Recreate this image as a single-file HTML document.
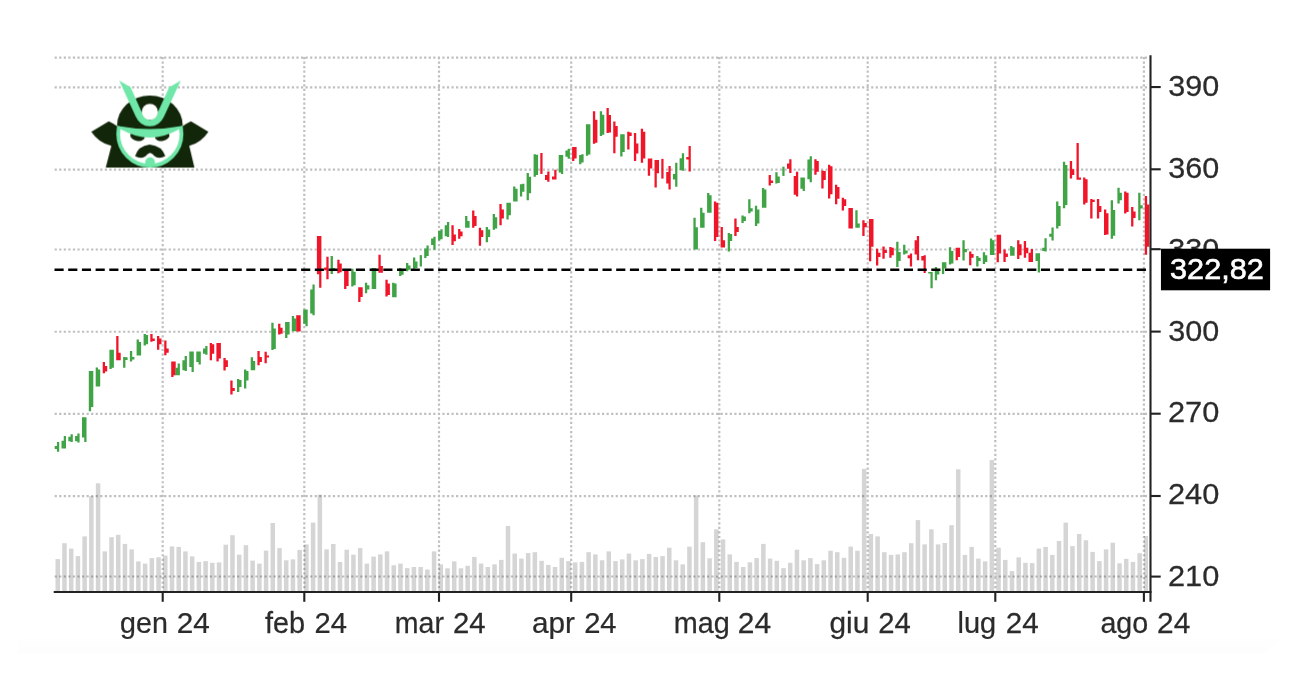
<!DOCTYPE html>
<html><head><meta charset="utf-8"><title>chart</title>
<style>html,body{margin:0;padding:0;background:#fff;width:1308px;height:694px;overflow:hidden;font-family:"Liberation Sans",sans-serif}</style>
</head><body>
<svg width="1308" height="694" viewBox="0 0 1308 694" style="position:absolute;left:0;top:0">
<defs><linearGradient id="bg" x1="0" y1="0" x2="0" y2="1"><stop offset="0" stop-color="#000" stop-opacity="0"/><stop offset="1" stop-color="#000" stop-opacity="0.009"/></linearGradient><filter id="tf" filterUnits="userSpaceOnUse" x="0" y="0" width="1308" height="694"><feOffset dx="0" dy="0"/></filter><filter id="bl" filterUnits="userSpaceOnUse" x="0" y="0" width="1308" height="694"><feGaussianBlur stdDeviation="0.45"/></filter></defs>
<rect x="0" y="0" width="1308" height="694" fill="#fff"/>
<path d="M18 634 H1283 Q1278 646 1262 653.5 H18 Z" fill="url(#bg)"/>
<g fill="#d5d5d5" filter="url(#bl)">
<rect x="55.50" y="559.1" width="4.5" height="31.9"/>
<rect x="62.22" y="543.2" width="4.5" height="47.8"/>
<rect x="68.94" y="548.6" width="4.5" height="42.4"/>
<rect x="75.66" y="556.1" width="4.5" height="34.9"/>
<rect x="82.38" y="536.4" width="4.5" height="54.6"/>
<rect x="89.10" y="496.2" width="4.5" height="94.8"/>
<rect x="95.82" y="483.3" width="4.5" height="107.7"/>
<rect x="102.54" y="551.4" width="4.5" height="39.6"/>
<rect x="109.26" y="537.2" width="4.5" height="53.8"/>
<rect x="115.98" y="534.8" width="4.5" height="56.2"/>
<rect x="122.70" y="543.9" width="4.5" height="47.1"/>
<rect x="129.42" y="549.4" width="4.5" height="41.6"/>
<rect x="136.14" y="561.4" width="4.5" height="29.6"/>
<rect x="142.86" y="563.6" width="4.5" height="27.4"/>
<rect x="149.58" y="558.1" width="4.5" height="32.9"/>
<rect x="156.30" y="557.3" width="4.5" height="33.7"/>
<rect x="163.02" y="555.6" width="4.5" height="35.4"/>
<rect x="169.74" y="546.4" width="4.5" height="44.6"/>
<rect x="176.46" y="546.9" width="4.5" height="44.1"/>
<rect x="183.18" y="551.4" width="4.5" height="39.6"/>
<rect x="189.90" y="556.4" width="4.5" height="34.6"/>
<rect x="196.62" y="561.9" width="4.5" height="29.1"/>
<rect x="203.34" y="561.1" width="4.5" height="29.9"/>
<rect x="210.06" y="562.8" width="4.5" height="28.2"/>
<rect x="216.78" y="562.4" width="4.5" height="28.6"/>
<rect x="223.50" y="544.7" width="4.5" height="46.3"/>
<rect x="230.22" y="535.2" width="4.5" height="55.8"/>
<rect x="236.94" y="554.7" width="4.5" height="36.3"/>
<rect x="243.66" y="545.2" width="4.5" height="45.8"/>
<rect x="250.38" y="560.6" width="4.5" height="30.4"/>
<rect x="257.10" y="563.6" width="4.5" height="27.4"/>
<rect x="263.82" y="550.6" width="4.5" height="40.4"/>
<rect x="270.54" y="523.0" width="4.5" height="68.0"/>
<rect x="277.26" y="548.1" width="4.5" height="42.9"/>
<rect x="283.98" y="560.3" width="4.5" height="30.7"/>
<rect x="290.70" y="559.4" width="4.5" height="31.6"/>
<rect x="297.42" y="549.9" width="4.5" height="41.1"/>
<rect x="304.14" y="544.4" width="4.5" height="46.6"/>
<rect x="310.86" y="522.6" width="4.5" height="68.4"/>
<rect x="317.58" y="494.7" width="4.5" height="96.3"/>
<rect x="324.30" y="549.4" width="4.5" height="41.6"/>
<rect x="331.02" y="544.0" width="4.5" height="47.0"/>
<rect x="337.74" y="561.9" width="4.5" height="29.1"/>
<rect x="344.46" y="549.7" width="4.5" height="41.3"/>
<rect x="351.18" y="554.7" width="4.5" height="36.3"/>
<rect x="357.90" y="548.1" width="4.5" height="42.9"/>
<rect x="364.62" y="563.6" width="4.5" height="27.4"/>
<rect x="371.34" y="556.6" width="4.5" height="34.4"/>
<rect x="378.06" y="554.4" width="4.5" height="36.6"/>
<rect x="384.78" y="551.4" width="4.5" height="39.6"/>
<rect x="391.50" y="565.3" width="4.5" height="25.7"/>
<rect x="398.22" y="563.6" width="4.5" height="27.4"/>
<rect x="404.94" y="568.1" width="4.5" height="22.9"/>
<rect x="411.66" y="567.0" width="4.5" height="24.0"/>
<rect x="418.38" y="567.0" width="4.5" height="24.0"/>
<rect x="425.10" y="569.5" width="4.5" height="21.5"/>
<rect x="431.82" y="551.4" width="4.5" height="39.6"/>
<rect x="438.54" y="564.4" width="4.5" height="26.6"/>
<rect x="445.26" y="568.3" width="4.5" height="22.7"/>
<rect x="451.98" y="561.4" width="4.5" height="29.6"/>
<rect x="458.70" y="568.3" width="4.5" height="22.7"/>
<rect x="465.42" y="565.8" width="4.5" height="25.2"/>
<rect x="472.14" y="556.9" width="4.5" height="34.1"/>
<rect x="478.86" y="563.6" width="4.5" height="27.4"/>
<rect x="485.58" y="567.0" width="4.5" height="24.0"/>
<rect x="492.30" y="564.4" width="4.5" height="26.6"/>
<rect x="499.02" y="559.9" width="4.5" height="31.1"/>
<rect x="505.74" y="526.0" width="4.5" height="65.0"/>
<rect x="512.46" y="553.6" width="4.5" height="37.4"/>
<rect x="519.18" y="558.6" width="4.5" height="32.4"/>
<rect x="525.90" y="553.1" width="4.5" height="37.9"/>
<rect x="532.62" y="552.2" width="4.5" height="38.8"/>
<rect x="539.34" y="560.8" width="4.5" height="30.2"/>
<rect x="546.06" y="564.9" width="4.5" height="26.1"/>
<rect x="552.78" y="567.0" width="4.5" height="24.0"/>
<rect x="559.50" y="557.8" width="4.5" height="33.2"/>
<rect x="566.22" y="561.1" width="4.5" height="29.9"/>
<rect x="572.94" y="562.4" width="4.5" height="28.6"/>
<rect x="579.66" y="561.9" width="4.5" height="29.1"/>
<rect x="586.38" y="552.2" width="4.5" height="38.8"/>
<rect x="593.10" y="554.4" width="4.5" height="36.6"/>
<rect x="599.82" y="560.3" width="4.5" height="30.7"/>
<rect x="606.54" y="551.4" width="4.5" height="39.6"/>
<rect x="613.26" y="561.1" width="4.5" height="29.9"/>
<rect x="619.98" y="559.4" width="4.5" height="31.6"/>
<rect x="626.70" y="553.6" width="4.5" height="37.4"/>
<rect x="633.42" y="560.3" width="4.5" height="30.7"/>
<rect x="640.14" y="559.1" width="4.5" height="31.9"/>
<rect x="646.86" y="553.9" width="4.5" height="37.1"/>
<rect x="653.58" y="556.9" width="4.5" height="34.1"/>
<rect x="660.30" y="556.1" width="4.5" height="34.9"/>
<rect x="667.02" y="547.7" width="4.5" height="43.3"/>
<rect x="673.74" y="560.3" width="4.5" height="30.7"/>
<rect x="680.46" y="564.4" width="4.5" height="26.6"/>
<rect x="687.18" y="546.6" width="4.5" height="44.4"/>
<rect x="693.90" y="495.4" width="4.5" height="95.6"/>
<rect x="700.62" y="542.2" width="4.5" height="48.8"/>
<rect x="707.34" y="558.3" width="4.5" height="32.7"/>
<rect x="714.06" y="529.3" width="4.5" height="61.7"/>
<rect x="720.78" y="539.4" width="4.5" height="51.6"/>
<rect x="727.50" y="554.4" width="4.5" height="36.6"/>
<rect x="734.22" y="561.9" width="4.5" height="29.1"/>
<rect x="740.94" y="567.0" width="4.5" height="24.0"/>
<rect x="747.66" y="562.3" width="4.5" height="28.7"/>
<rect x="754.38" y="558.1" width="4.5" height="32.9"/>
<rect x="761.10" y="543.9" width="4.5" height="47.1"/>
<rect x="767.82" y="558.6" width="4.5" height="32.4"/>
<rect x="774.54" y="560.8" width="4.5" height="30.2"/>
<rect x="781.26" y="568.1" width="4.5" height="22.9"/>
<rect x="787.98" y="562.8" width="4.5" height="28.2"/>
<rect x="794.70" y="549.7" width="4.5" height="41.3"/>
<rect x="801.42" y="560.3" width="4.5" height="30.7"/>
<rect x="808.14" y="558.1" width="4.5" height="32.9"/>
<rect x="814.86" y="564.1" width="4.5" height="26.9"/>
<rect x="821.58" y="560.3" width="4.5" height="30.7"/>
<rect x="828.30" y="550.7" width="4.5" height="40.3"/>
<rect x="835.02" y="552.2" width="4.5" height="38.8"/>
<rect x="841.74" y="557.8" width="4.5" height="33.2"/>
<rect x="848.46" y="546.6" width="4.5" height="44.4"/>
<rect x="855.18" y="550.7" width="4.5" height="40.3"/>
<rect x="861.90" y="468.8" width="4.5" height="122.2"/>
<rect x="868.62" y="534.0" width="4.5" height="57.0"/>
<rect x="875.34" y="536.4" width="4.5" height="54.6"/>
<rect x="882.06" y="552.2" width="4.5" height="38.8"/>
<rect x="888.78" y="554.9" width="4.5" height="36.1"/>
<rect x="895.50" y="554.4" width="4.5" height="36.6"/>
<rect x="902.22" y="552.2" width="4.5" height="38.8"/>
<rect x="908.94" y="543.2" width="4.5" height="47.8"/>
<rect x="915.66" y="520.1" width="4.5" height="70.9"/>
<rect x="922.38" y="544.4" width="4.5" height="46.6"/>
<rect x="929.10" y="529.3" width="4.5" height="61.7"/>
<rect x="935.82" y="544.4" width="4.5" height="46.6"/>
<rect x="942.54" y="543.0" width="4.5" height="48.0"/>
<rect x="949.26" y="525.2" width="4.5" height="65.8"/>
<rect x="955.98" y="469.3" width="4.5" height="121.7"/>
<rect x="962.70" y="554.9" width="4.5" height="36.1"/>
<rect x="969.42" y="546.9" width="4.5" height="44.1"/>
<rect x="976.14" y="558.6" width="4.5" height="32.4"/>
<rect x="982.86" y="561.4" width="4.5" height="29.6"/>
<rect x="989.58" y="460.1" width="4.5" height="130.9"/>
<rect x="996.30" y="547.7" width="4.5" height="43.3"/>
<rect x="1003.02" y="559.9" width="4.5" height="31.1"/>
<rect x="1009.74" y="571.1" width="4.5" height="19.9"/>
<rect x="1016.46" y="557.4" width="4.5" height="33.6"/>
<rect x="1023.18" y="562.8" width="4.5" height="28.2"/>
<rect x="1029.90" y="563.1" width="4.5" height="27.9"/>
<rect x="1036.62" y="548.6" width="4.5" height="42.4"/>
<rect x="1043.34" y="546.9" width="4.5" height="44.1"/>
<rect x="1050.06" y="554.9" width="4.5" height="36.1"/>
<rect x="1056.78" y="541.0" width="4.5" height="50.0"/>
<rect x="1063.50" y="522.6" width="4.5" height="68.4"/>
<rect x="1070.22" y="546.1" width="4.5" height="44.9"/>
<rect x="1076.94" y="534.0" width="4.5" height="57.0"/>
<rect x="1083.66" y="540.2" width="4.5" height="50.8"/>
<rect x="1090.38" y="551.9" width="4.5" height="39.1"/>
<rect x="1097.10" y="561.1" width="4.5" height="29.9"/>
<rect x="1103.82" y="549.4" width="4.5" height="41.6"/>
<rect x="1110.54" y="542.7" width="4.5" height="48.3"/>
<rect x="1117.26" y="563.3" width="4.5" height="27.7"/>
<rect x="1123.98" y="558.9" width="4.5" height="32.1"/>
<rect x="1130.70" y="561.9" width="4.5" height="29.1"/>
<rect x="1137.42" y="553.2" width="4.5" height="37.8"/>
<rect x="1144.14" y="536.0" width="3.9" height="55.0"/>
</g>
<g stroke="#000" stroke-opacity="0.25" stroke-width="2.2" stroke-dasharray="2.2 2.3615" fill="none" filter="url(#bl)">
<path d="M54.63 57.54H1147M54.63 87.28H1147M54.63 169.6H1147M54.63 249.5H1147M54.63 331.73H1147M54.63 413.9H1147M54.63 496.2H1147M54.63 576.5H1147M162.7 56.94V591M304.3 56.94V591M439.0 56.94V591M571.2 56.94V591M719.3 56.94V591M867.7 56.94V591M995.3 56.94V591M1143.9 56.94V591"/>
</g>
<g filter="url(#bl)">
<path fill="#3fa447" d="M54.7 445.9 h2.3 V449.1 h-2.3Z M56.95 442.0 h2.25 V451.7 h-2.25Z"/>
<path fill="#3fa447" d="M61.5 440.7 h2.3 V448.5 h-2.3Z M63.75 436.1 h2.25 V448.5 h-2.25Z"/>
<path fill="#3fa447" d="M68.3 436.8 h2.3 V441.3 h-2.3Z M70.55 434.2 h2.25 V442.0 h-2.25Z"/>
<path fill="#3fa447" d="M75.1 436.1 h2.3 V441.3 h-2.3Z M77.35 433.6 h2.25 V442.6 h-2.25Z"/>
<path fill="#3fa447" d="M82.0 417.3 h2.3 V437.4 h-2.3Z M84.25 417.3 h2.25 V442.0 h-2.25Z"/>
<path fill="#3fa447" d="M88.8 371.1 h2.3 V411.2 h-2.3Z M91.05 371.1 h2.25 V407.0 h-2.25Z"/>
<path fill="#3fa447" d="M95.7 367.4 h2.3 V386.6 h-2.3Z M97.95 369.4 h2.25 V386.6 h-2.25Z"/>
<path fill="#f0162b" d="M102.7 361.9 h2.3 V373.2 h-2.3Z M104.95 366.1 h2.25 V371.6 h-2.25Z"/>
<path fill="#3fa447" d="M109.4 349.7 h2.3 V368.9 h-2.3Z M111.65 349.7 h2.25 V367.7 h-2.25Z"/>
<path fill="#f0162b" d="M116.2 336.0 h2.3 V360.2 h-2.3Z M118.45 352.7 h2.25 V360.2 h-2.25Z"/>
<path fill="#3fa447" d="M123.1 356.9 h2.3 V367.7 h-2.3Z M125.35 357.2 h2.25 V359.9 h-2.25Z"/>
<path fill="#3fa447" d="M129.9 351.0 h2.3 V361.5 h-2.3Z M132.15 356.9 h2.25 V359.4 h-2.25Z"/>
<path fill="#3fa447" d="M136.6 339.6 h2.3 V355.5 h-2.3Z M138.85 342.1 h2.25 V355.5 h-2.25Z"/>
<path fill="#3fa447" d="M143.6 333.9 h2.3 V345.5 h-2.3Z M145.85 335.1 h2.25 V344.3 h-2.25Z"/>
<path fill="#f0162b" d="M150.3 333.9 h2.3 V341.8 h-2.3Z M152.55 338.5 h2.25 V341.0 h-2.25Z"/>
<path fill="#f0162b" d="M157.0 336.0 h2.3 V349.7 h-2.3Z M159.25 338.5 h2.25 V344.3 h-2.25Z"/>
<path fill="#f0162b" d="M164.2 340.6 h2.3 V355.2 h-2.3Z M166.45 348.5 h2.25 V352.7 h-2.25Z"/>
<path fill="#f0162b" d="M171.2 361.5 h2.3 V376.9 h-2.3Z M173.45 361.5 h2.25 V375.3 h-2.25Z"/>
<path fill="#3fa447" d="M175.4 367.7 h2.3 V375.3 h-2.3Z M177.65 363.5 h2.25 V375.3 h-2.25Z"/>
<path fill="#3fa447" d="M182.4 360.2 h2.3 V370.2 h-2.3Z M184.65 356.0 h2.25 V371.1 h-2.25Z"/>
<path fill="#3fa447" d="M189.3 351.5 h2.3 V366.9 h-2.3Z M191.55 351.5 h2.25 V371.9 h-2.25Z"/>
<path fill="#3fa447" d="M196.3 351.5 h2.3 V361.9 h-2.3Z M198.55 351.5 h2.25 V364.4 h-2.25Z"/>
<path fill="#3fa447" d="M203.0 348.5 h2.3 V353.8 h-2.3Z M205.25 346.0 h2.25 V354.8 h-2.25Z"/>
<path fill="#f0162b" d="M209.7 343.1 h2.3 V360.2 h-2.3Z M211.95 344.3 h2.25 V353.8 h-2.25Z"/>
<path fill="#f0162b" d="M216.4 343.1 h2.3 V361.5 h-2.3Z M218.65 343.1 h2.25 V358.5 h-2.25Z"/>
<path fill="#f0162b" d="M223.4 358.0 h2.3 V370.6 h-2.3Z M225.65 360.2 h2.25 V366.9 h-2.25Z"/>
<path fill="#f0162b" d="M230.3 380.6 h2.3 V394.5 h-2.3Z M232.55 388.1 h2.25 V391.1 h-2.25Z"/>
<path fill="#3fa447" d="M237.0 378.9 h2.3 V392.0 h-2.3Z M239.25 379.9 h2.25 V387.0 h-2.25Z"/>
<path fill="#3fa447" d="M244.0 369.4 h2.3 V388.6 h-2.3Z M246.25 371.1 h2.25 V380.6 h-2.25Z"/>
<path fill="#3fa447" d="M250.7 357.2 h2.3 V370.2 h-2.3Z M252.95 361.0 h2.25 V370.2 h-2.25Z"/>
<path fill="#f0162b" d="M257.4 351.0 h2.3 V365.2 h-2.3Z M259.65 356.9 h2.25 V361.9 h-2.25Z"/>
<path fill="#f0162b" d="M264.5 351.8 h2.3 V363.2 h-2.3Z M266.75 355.4 h2.25 V357.6 h-2.25Z"/>
<path fill="#3fa447" d="M271.3 322.7 h2.3 V350.0 h-2.3Z M273.55 328.4 h2.25 V349.0 h-2.25Z"/>
<path fill="#f0162b" d="M278.1 323.7 h2.3 V334.5 h-2.3Z M280.35 327.8 h2.25 V333.7 h-2.25Z"/>
<path fill="#3fa447" d="M285.1 322.0 h2.3 V337.9 h-2.3Z M287.35 322.0 h2.25 V334.5 h-2.25Z"/>
<path fill="#3fa447" d="M291.8 316.1 h2.3 V331.2 h-2.3Z M294.05 318.6 h2.25 V331.2 h-2.25Z"/>
<path fill="#f0162b" d="M296.2 315.3 h2.3 V331.5 h-2.3Z M298.45 315.3 h2.25 V331.5 h-2.25Z"/>
<path fill="#3fa447" d="M303.2 309.4 h2.3 V323.7 h-2.3Z M305.45 309.4 h2.25 V326.2 h-2.25Z"/>
<path fill="#3fa447" d="M310.2 289.4 h2.3 V313.6 h-2.3Z M312.45 284.4 h2.25 V315.3 h-2.25Z"/>
<path fill="#f0162b" d="M316.9 235.9 h2.3 V274.3 h-2.3Z M319.15 235.9 h2.25 V287.7 h-2.25Z"/>
<path fill="#f0162b" d="M324.1 267.6 h2.3 V270.2 h-2.3Z M326.35 256.8 h2.25 V279.3 h-2.25Z"/>
<path fill="#3fa447" d="M330.6 255.9 h2.3 V274.0 h-2.3Z M332.85 268.1 h2.25 V269.8 h-2.25Z"/>
<path fill="#f0162b" d="M337.3 259.8 h2.3 V273.2 h-2.3Z M339.55 263.5 h2.25 V272.3 h-2.25Z"/>
<path fill="#f0162b" d="M344.1 271.0 h2.3 V289.0 h-2.3Z M346.35 271.0 h2.25 V286.0 h-2.25Z"/>
<path fill="#3fa447" d="M351.2 268.8 h2.3 V286.5 h-2.3Z M353.45 271.8 h2.25 V285.2 h-2.25Z"/>
<path fill="#f0162b" d="M358.2 287.2 h2.3 V301.9 h-2.3Z M360.45 287.2 h2.25 V296.9 h-2.25Z"/>
<path fill="#3fa447" d="M364.9 282.7 h2.3 V293.2 h-2.3Z M367.15 285.2 h2.25 V289.4 h-2.25Z"/>
<path fill="#3fa447" d="M371.7 268.1 h2.3 V289.0 h-2.3Z M373.95 268.1 h2.25 V289.0 h-2.25Z"/>
<path fill="#f0162b" d="M378.4 254.8 h2.3 V272.7 h-2.3Z M380.65 266.0 h2.25 V272.7 h-2.25Z"/>
<path fill="#f0162b" d="M385.4 279.8 h2.3 V296.6 h-2.3Z M387.65 283.5 h2.25 V294.9 h-2.25Z"/>
<path fill="#3fa447" d="M392.1 282.7 h2.3 V297.2 h-2.3Z M394.35 283.5 h2.25 V297.2 h-2.25Z"/>
<path fill="#3fa447" d="M399.1 268.1 h2.3 V276.0 h-2.3Z M401.35 270.2 h2.25 V274.8 h-2.25Z"/>
<path fill="#3fa447" d="M406.0 263.1 h2.3 V271.3 h-2.3Z M408.25 265.6 h2.25 V269.8 h-2.25Z"/>
<path fill="#3fa447" d="M413.0 257.6 h2.3 V268.8 h-2.3Z M415.25 261.5 h2.25 V268.1 h-2.25Z"/>
<rect x="419.7" y="255.1" width="2.25" height="11.4" fill="#3fa447"/>
<path fill="#3fa447" d="M424.2 248.4 h2.3 V258.1 h-2.3Z M426.45 245.4 h2.25 V255.9 h-2.25Z"/>
<path fill="#3fa447" d="M431.1 238.4 h2.3 V245.1 h-2.3Z M433.35 236.7 h2.25 V249.7 h-2.25Z"/>
<path fill="#3fa447" d="M438.1 230.9 h2.3 V240.4 h-2.3Z M440.35 229.2 h2.25 V239.2 h-2.25Z"/>
<path fill="#3fa447" d="M444.7 225.3 h2.3 V236.2 h-2.3Z M446.95 221.9 h2.25 V237.0 h-2.25Z"/>
<path fill="#f0162b" d="M451.4 225.3 h2.3 V245.0 h-2.3Z M453.65 234.5 h2.25 V241.2 h-2.25Z"/>
<path fill="#f0162b" d="M458.1 229.0 h2.3 V238.7 h-2.3Z M460.35 231.6 h2.25 V236.2 h-2.25Z"/>
<path fill="#3fa447" d="M465.1 216.1 h2.3 V227.8 h-2.3Z M467.35 221.1 h2.25 V227.8 h-2.25Z"/>
<path fill="#f0162b" d="M472.1 210.6 h2.3 V227.8 h-2.3Z M474.35 216.1 h2.25 V226.1 h-2.25Z"/>
<path fill="#f0162b" d="M478.8 227.8 h2.3 V245.7 h-2.3Z M481.05 230.3 h2.25 V237.0 h-2.25Z"/>
<path fill="#3fa447" d="M485.7 227.0 h2.3 V242.3 h-2.3Z M487.95 229.5 h2.25 V237.0 h-2.25Z"/>
<path fill="#3fa447" d="M492.7 214.1 h2.3 V229.8 h-2.3Z M494.95 217.3 h2.25 V228.6 h-2.25Z"/>
<path fill="#f0162b" d="M499.4 204.0 h2.3 V225.3 h-2.3Z M501.65 209.4 h2.25 V218.6 h-2.25Z"/>
<path fill="#3fa447" d="M506.4 202.7 h2.3 V219.4 h-2.3Z M508.65 202.7 h2.25 V215.3 h-2.25Z"/>
<path fill="#3fa447" d="M513.1 186.5 h2.3 V201.5 h-2.3Z M515.35 188.8 h2.25 V201.5 h-2.25Z"/>
<path fill="#3fa447" d="M519.9 184.3 h2.3 V196.5 h-2.3Z M522.15 183.8 h2.25 V191.8 h-2.25Z"/>
<path fill="#3fa447" d="M526.6 173.1 h2.3 V200.2 h-2.3Z M528.85 176.8 h2.25 V193.2 h-2.25Z"/>
<path fill="#3fa447" d="M533.6 154.2 h2.3 V176.8 h-2.3Z M535.85 154.7 h2.25 V175.1 h-2.25Z"/>
<rect x="540.3" y="153.0" width="2.25" height="20.9" fill="#f0162b"/>
<path fill="#f0162b" d="M545.0 175.1 h2.3 V180.1 h-2.3Z M547.25 171.4 h2.25 V181.8 h-2.25Z"/>
<path fill="#f0162b" d="M552.0 176.5 h2.3 V179.6 h-2.3Z M554.25 169.8 h2.25 V179.6 h-2.25Z"/>
<path fill="#3fa447" d="M558.7 155.1 h2.3 V172.6 h-2.3Z M560.95 155.1 h2.25 V173.9 h-2.25Z"/>
<path fill="#3fa447" d="M565.4 150.4 h2.3 V156.7 h-2.3Z M567.65 148.7 h2.25 V158.7 h-2.25Z"/>
<path fill="#f0162b" d="M572.1 147.0 h2.3 V160.9 h-2.3Z M574.35 147.0 h2.25 V158.4 h-2.25Z"/>
<path fill="#3fa447" d="M579.1 155.1 h2.3 V164.2 h-2.3Z M581.35 154.2 h2.25 V162.6 h-2.25Z"/>
<path fill="#3fa447" d="M585.9 124.3 h2.3 V155.7 h-2.3Z M588.15 124.3 h2.25 V154.4 h-2.25Z"/>
<path fill="#f0162b" d="M592.9 111.2 h2.3 V143.8 h-2.3Z M595.15 119.8 h2.25 V142.7 h-2.25Z"/>
<path fill="#3fa447" d="M599.8 111.2 h2.3 V136.0 h-2.3Z M602.05 114.7 h2.25 V134.8 h-2.25Z"/>
<path fill="#f0162b" d="M606.5 108.1 h2.3 V133.1 h-2.3Z M608.75 115.1 h2.25 V132.6 h-2.25Z"/>
<path fill="#f0162b" d="M613.2 121.4 h2.3 V153.2 h-2.3Z M615.45 126.0 h2.25 V136.8 h-2.25Z"/>
<path fill="#3fa447" d="M620.2 134.3 h2.3 V156.4 h-2.3Z M622.45 134.3 h2.25 V151.9 h-2.25Z"/>
<path fill="#f0162b" d="M627.2 131.8 h2.3 V149.4 h-2.3Z M629.45 132.6 h2.25 V136.0 h-2.25Z"/>
<path fill="#f0162b" d="M633.9 133.1 h2.3 V161.1 h-2.3Z M636.15 143.5 h2.25 V153.5 h-2.25Z"/>
<path fill="#f0162b" d="M640.8 128.8 h2.3 V162.7 h-2.3Z M643.05 131.8 h2.25 V158.6 h-2.25Z"/>
<path fill="#f0162b" d="M647.8 158.6 h2.3 V175.8 h-2.3Z M650.05 158.6 h2.25 V168.6 h-2.25Z"/>
<path fill="#f0162b" d="M654.5 159.9 h2.3 V187.5 h-2.3Z M656.75 159.9 h2.25 V173.3 h-2.25Z"/>
<rect x="661.3" y="158.9" width="2.25" height="19.7" fill="#f0162b"/>
<path fill="#f0162b" d="M666.2 171.9 h2.3 V183.6 h-2.3Z M668.45 166.1 h2.25 V189.5 h-2.25Z"/>
<path fill="#3fa447" d="M672.9 174.1 h2.3 V179.5 h-2.3Z M675.15 162.7 h2.25 V186.7 h-2.25Z"/>
<path fill="#3fa447" d="M679.6 158.2 h2.3 V169.9 h-2.3Z M681.85 153.2 h2.25 V170.8 h-2.25Z"/>
<path fill="#f0162b" d="M686.3 156.9 h2.3 V159.4 h-2.3Z M688.55 146.0 h2.25 V171.4 h-2.25Z"/>
<path fill="#3fa447" d="M693.4 217.7 h2.3 V249.5 h-2.3Z M695.65 227.3 h2.25 V249.5 h-2.25Z"/>
<path fill="#3fa447" d="M700.1 207.7 h2.3 V227.8 h-2.3Z M702.35 212.7 h2.25 V227.8 h-2.25Z"/>
<path fill="#3fa447" d="M707.1 193.1 h2.3 V212.7 h-2.3Z M709.35 195.2 h2.25 V212.7 h-2.25Z"/>
<path fill="#f0162b" d="M713.9 201.5 h2.3 V241.1 h-2.3Z M716.15 202.7 h2.25 V237.0 h-2.25Z"/>
<path fill="#f0162b" d="M720.6 226.9 h2.3 V247.5 h-2.3Z M722.85 240.3 h2.25 V247.5 h-2.25Z"/>
<path fill="#3fa447" d="M727.7 233.1 h2.3 V251.5 h-2.3Z M729.95 234.1 h2.25 V241.1 h-2.25Z"/>
<path fill="#f0162b" d="M734.3 218.6 h2.3 V236.1 h-2.3Z M736.55 226.9 h2.25 V231.9 h-2.25Z"/>
<path fill="#3fa447" d="M741.4 215.6 h2.3 V223.1 h-2.3Z M743.65 216.4 h2.25 V221.1 h-2.25Z"/>
<path fill="#3fa447" d="M748.2 199.3 h2.3 V213.2 h-2.3Z M750.45 208.2 h2.25 V211.5 h-2.25Z"/>
<path fill="#3fa447" d="M754.9 205.7 h2.3 V226.1 h-2.3Z M757.15 209.4 h2.25 V223.6 h-2.25Z"/>
<path fill="#3fa447" d="M761.9 188.1 h2.3 V207.7 h-2.3Z M764.15 189.6 h2.25 V207.7 h-2.25Z"/>
<path fill="#f0162b" d="M768.6 175.1 h2.3 V185.6 h-2.3Z M770.85 180.6 h2.25 V182.9 h-2.25Z"/>
<path fill="#3fa447" d="M775.3 172.2 h2.3 V183.4 h-2.3Z M777.55 176.4 h2.25 V183.1 h-2.25Z"/>
<rect x="782.3" y="166.7" width="2.25" height="9.2" fill="#3fa447"/>
<path fill="#f0162b" d="M787.0 163.4 h2.3 V168.7 h-2.3Z M789.25 159.2 h2.25 V173.1 h-2.25Z"/>
<path fill="#f0162b" d="M793.7 175.9 h2.3 V194.8 h-2.3Z M795.95 171.7 h2.25 V196.5 h-2.25Z"/>
<path fill="#3fa447" d="M800.4 177.6 h2.3 V188.8 h-2.3Z M802.65 177.6 h2.25 V191.0 h-2.25Z"/>
<path fill="#3fa447" d="M807.4 159.5 h2.3 V179.3 h-2.3Z M809.65 156.2 h2.25 V182.3 h-2.25Z"/>
<path fill="#f0162b" d="M814.3 159.2 h2.3 V174.7 h-2.3Z M816.55 160.9 h2.25 V171.7 h-2.25Z"/>
<path fill="#f0162b" d="M821.3 170.4 h2.3 V188.5 h-2.3Z M823.55 170.9 h2.25 V180.1 h-2.25Z"/>
<path fill="#f0162b" d="M828.0 164.7 h2.3 V198.5 h-2.3Z M830.25 166.2 h2.25 V194.3 h-2.25Z"/>
<path fill="#f0162b" d="M835.0 184.8 h2.3 V204.3 h-2.3Z M837.25 187.1 h2.25 V198.8 h-2.25Z"/>
<path fill="#f0162b" d="M841.7 197.7 h2.3 V210.5 h-2.3Z M843.95 199.3 h2.25 V206.0 h-2.25Z"/>
<path fill="#f0162b" d="M848.4 208.0 h2.3 V228.6 h-2.3Z M850.65 208.0 h2.25 V228.6 h-2.25Z"/>
<path fill="#3fa447" d="M855.3 210.2 h2.3 V227.8 h-2.3Z M857.55 223.6 h2.25 V227.8 h-2.25Z"/>
<path fill="#f0162b" d="M862.3 220.2 h2.3 V236.1 h-2.3Z M864.55 223.1 h2.25 V227.3 h-2.25Z"/>
<path fill="#f0162b" d="M869.0 218.9 h2.3 V261.2 h-2.3Z M871.25 218.9 h2.25 V246.7 h-2.25Z"/>
<path fill="#f0162b" d="M876.0 248.7 h2.3 V265.4 h-2.3Z M878.25 252.8 h2.25 V257.0 h-2.25Z"/>
<path fill="#f0162b" d="M882.4 246.5 h2.3 V258.8 h-2.3Z M884.65 250.1 h2.25 V253.0 h-2.25Z"/>
<path fill="#f0162b" d="M889.3 247.0 h2.3 V257.8 h-2.3Z M891.55 247.7 h2.25 V255.3 h-2.25Z"/>
<path fill="#3fa447" d="M896.2 241.8 h2.3 V266.9 h-2.3Z M898.45 251.9 h2.25 V261.1 h-2.25Z"/>
<path fill="#3fa447" d="M903.1 244.8 h2.3 V254.4 h-2.3Z M905.35 250.5 h2.25 V253.5 h-2.25Z"/>
<path fill="#f0162b" d="M907.6 255.2 h2.3 V258.2 h-2.3Z M909.85 253.5 h2.25 V266.6 h-2.25Z"/>
<path fill="#f0162b" d="M914.6 240.2 h2.3 V254.4 h-2.3Z M916.85 236.0 h2.25 V260.2 h-2.25Z"/>
<path fill="#f0162b" d="M921.3 256.1 h2.3 V260.6 h-2.3Z M923.55 255.2 h2.25 V273.1 h-2.25Z"/>
<path fill="#3fa447" d="M928.2 271.9 h2.3 V273.6 h-2.3Z M930.45 271.9 h2.25 V288.2 h-2.25Z"/>
<path fill="#3fa447" d="M934.8 266.9 h2.3 V280.3 h-2.3Z M937.05 271.1 h2.25 V274.4 h-2.25Z"/>
<path fill="#3fa447" d="M941.9 262.2 h2.3 V274.1 h-2.3Z M944.15 262.2 h2.25 V268.6 h-2.25Z"/>
<path fill="#3fa447" d="M948.9 247.2 h2.3 V264.4 h-2.3Z M951.15 251.0 h2.25 V263.6 h-2.25Z"/>
<path fill="#f0162b" d="M955.6 247.7 h2.3 V260.2 h-2.3Z M957.85 247.7 h2.25 V256.9 h-2.25Z"/>
<path fill="#3fa447" d="M962.4 240.2 h2.3 V260.6 h-2.3Z M964.65 248.9 h2.25 V252.2 h-2.25Z"/>
<path fill="#f0162b" d="M969.1 251.5 h2.3 V265.3 h-2.3Z M971.35 253.9 h2.25 V257.7 h-2.25Z"/>
<path fill="#3fa447" d="M976.2 256.1 h2.3 V266.6 h-2.3Z M978.45 257.7 h2.25 V261.1 h-2.25Z"/>
<path fill="#3fa447" d="M982.8 252.2 h2.3 V264.1 h-2.3Z M985.05 255.2 h2.25 V261.9 h-2.25Z"/>
<path fill="#3fa447" d="M989.9 238.5 h2.3 V254.9 h-2.3Z M992.15 240.2 h2.25 V254.9 h-2.25Z"/>
<path fill="#f0162b" d="M996.6 234.8 h2.3 V262.2 h-2.3Z M998.85 234.8 h2.25 V253.5 h-2.25Z"/>
<path fill="#f0162b" d="M1003.4 249.4 h2.3 V261.9 h-2.3Z M1005.65 253.5 h2.25 V256.9 h-2.25Z"/>
<path fill="#3fa447" d="M1010.1 246.0 h2.3 V255.7 h-2.3Z M1012.35 247.2 h2.25 V255.7 h-2.25Z"/>
<path fill="#f0162b" d="M1017.1 240.2 h2.3 V258.9 h-2.3Z M1019.35 244.3 h2.25 V255.2 h-2.25Z"/>
<path fill="#f0162b" d="M1023.8 241.0 h2.3 V257.7 h-2.3Z M1026.05 247.7 h2.25 V253.2 h-2.25Z"/>
<path fill="#f0162b" d="M1028.5 252.7 h2.3 V261.9 h-2.3Z M1030.75 248.9 h2.25 V261.9 h-2.25Z"/>
<path fill="#3fa447" d="M1035.5 253.2 h2.3 V261.1 h-2.3Z M1037.75 253.2 h2.25 V272.4 h-2.25Z"/>
<path fill="#3fa447" d="M1042.2 247.7 h2.3 V251.0 h-2.3Z M1044.45 238.2 h2.25 V251.5 h-2.25Z"/>
<path fill="#3fa447" d="M1049.2 233.8 h2.3 V236.8 h-2.3Z M1051.45 227.6 h2.25 V240.5 h-2.25Z"/>
<path fill="#3fa447" d="M1056.1 201.4 h2.3 V228.5 h-2.3Z M1058.35 205.9 h2.25 V226.0 h-2.25Z"/>
<path fill="#3fa447" d="M1062.9 161.8 h2.3 V208.2 h-2.3Z M1065.15 165.1 h2.25 V204.9 h-2.25Z"/>
<path fill="#f0162b" d="M1069.8 160.9 h2.3 V178.5 h-2.3Z M1072.05 169.3 h2.25 V175.1 h-2.25Z"/>
<path fill="#f0162b" d="M1076.5 143.0 h2.3 V179.8 h-2.3Z M1078.75 177.6 h2.25 V179.8 h-2.25Z"/>
<path fill="#f0162b" d="M1083.1 177.6 h2.3 V204.4 h-2.3Z M1085.35 179.3 h2.25 V202.7 h-2.25Z"/>
<path fill="#f0162b" d="M1090.2 198.9 h2.3 V218.6 h-2.3Z M1092.45 199.7 h2.25 V201.9 h-2.25Z"/>
<path fill="#f0162b" d="M1096.9 198.9 h2.3 V218.6 h-2.3Z M1099.15 206.1 h2.25 V211.9 h-2.25Z"/>
<path fill="#f0162b" d="M1104.0 209.4 h2.3 V235.0 h-2.3Z M1106.25 213.3 h2.25 V234.5 h-2.25Z"/>
<path fill="#3fa447" d="M1110.7 200.2 h2.3 V238.7 h-2.3Z M1112.95 209.9 h2.25 V235.8 h-2.25Z"/>
<path fill="#3fa447" d="M1117.4 187.7 h2.3 V203.6 h-2.3Z M1119.65 192.7 h2.25 V200.2 h-2.25Z"/>
<path fill="#f0162b" d="M1124.1 191.5 h2.3 V213.6 h-2.3Z M1126.35 192.7 h2.25 V211.9 h-2.25Z"/>
<path fill="#f0162b" d="M1131.1 206.9 h2.3 V226.5 h-2.3Z M1133.35 211.6 h2.25 V218.1 h-2.25Z"/>
<path fill="#3fa447" d="M1138.2 192.7 h2.3 V220.3 h-2.3Z M1140.45 205.2 h2.25 V208.6 h-2.25Z"/>
<path fill="#f0162b" d="M1144.8 196.0 h2.3 V254.8 h-2.3Z M1147.05 204.4 h2.25 V246.8 h-2.25Z"/>
</g>
<path d="M54.5 269.8 H1146" stroke="#000" stroke-width="2.4" stroke-dasharray="9.15 4.55" fill="none" filter="url(#bl)"/>
<g stroke="#222" stroke-width="2.1" fill="none">
<path d="M1150.5 55.3 V601.8"/>
<path d="M53.7 591.95 H1151.5"/>
<path d="M1151 87.06 H1160.7"/>
<path d="M1151 169.3 H1160.7"/>
<path d="M1151 249.2 H1160.7"/>
<path d="M1151 331.6 H1160.7"/>
<path d="M1151 413.7 H1160.7"/>
<path d="M1151 496.0 H1160.7"/>
<path d="M1151 576.6 H1160.7"/>
<path d="M162.7 592 V601.8"/>
<path d="M304.3 592 V601.8"/>
<path d="M439.0 592 V601.8"/>
<path d="M571.2 592 V601.8"/>
<path d="M719.3 592 V601.8"/>
<path d="M867.7 592 V601.8"/>
<path d="M995.3 592 V601.8"/>
<path d="M1143.9 592 V601.8"/>
</g>
<g font-family="'Liberation Sans', sans-serif" filter="url(#tf)">
<text transform="translate(1168.28,95.87) scale(1.0576,1)" font-size="28.9" fill="#2b2b2b" stroke="#2b2b2b" stroke-width="0.25">390</text>
<text transform="translate(1168.28,177.52) scale(1.0576,1)" font-size="28.9" fill="#2b2b2b" stroke="#2b2b2b" stroke-width="0.25">360</text>
<text transform="translate(1168.28,259.17) scale(1.0576,1)" font-size="28.9" fill="#2b2b2b" stroke="#2b2b2b" stroke-width="0.25">330</text>
<text transform="translate(1168.28,340.82) scale(1.0576,1)" font-size="28.9" fill="#2b2b2b" stroke="#2b2b2b" stroke-width="0.25">300</text>
<text transform="translate(1167.96,422.47) scale(1.0643,1)" font-size="28.9" fill="#2b2b2b" stroke="#2b2b2b" stroke-width="0.25">270</text>
<text transform="translate(1167.96,504.12) scale(1.0643,1)" font-size="28.9" fill="#2b2b2b" stroke="#2b2b2b" stroke-width="0.25">240</text>
<text transform="translate(1167.96,585.77) scale(1.0643,1)" font-size="28.9" fill="#2b2b2b" stroke="#2b2b2b" stroke-width="0.25">210</text>
<text transform="translate(120.05,632.80) scale(0.9974,1)" font-size="28.7" fill="#2b2b2b" stroke="#2b2b2b" stroke-width="0.25">gen</text>
<text transform="translate(176.81,632.80) scale(1.0369,1)" font-size="28.7" fill="#2b2b2b" stroke="#2b2b2b" stroke-width="0.25">24</text>
<text transform="translate(265.07,632.80) scale(1.0048,1)" font-size="28.7" fill="#2b2b2b" stroke="#2b2b2b" stroke-width="0.25">feb</text>
<text transform="translate(314.54,632.80) scale(1.0167,1)" font-size="28.7" fill="#2b2b2b" stroke="#2b2b2b" stroke-width="0.25">24</text>
<text transform="translate(394.85,632.80) scale(0.9943,1)" font-size="28.7" fill="#2b2b2b" stroke="#2b2b2b" stroke-width="0.25">mar</text>
<text transform="translate(453.04,632.80) scale(1.0200,1)" font-size="28.7" fill="#2b2b2b" stroke="#2b2b2b" stroke-width="0.25">24</text>
<text transform="translate(531.96,632.80) scale(1.0365,1)" font-size="28.7" fill="#2b2b2b" stroke="#2b2b2b" stroke-width="0.25">apr</text>
<text transform="translate(584.14,632.80) scale(1.0167,1)" font-size="28.7" fill="#2b2b2b" stroke="#2b2b2b" stroke-width="0.25">24</text>
<text transform="translate(673.63,632.80) scale(1.0040,1)" font-size="28.7" fill="#2b2b2b" stroke="#2b2b2b" stroke-width="0.25">mag</text>
<text transform="translate(737.80,632.80) scale(1.0436,1)" font-size="28.7" fill="#2b2b2b" stroke="#2b2b2b" stroke-width="0.25">24</text>
<text transform="translate(829.41,632.80) scale(1.0396,1)" font-size="28.7" fill="#2b2b2b" stroke="#2b2b2b" stroke-width="0.25">giu</text>
<text transform="translate(878.14,632.80) scale(1.0200,1)" font-size="28.7" fill="#2b2b2b" stroke="#2b2b2b" stroke-width="0.25">24</text>
<text transform="translate(957.52,632.80) scale(1.0092,1)" font-size="28.7" fill="#2b2b2b" stroke="#2b2b2b" stroke-width="0.25">lug</text>
<text transform="translate(1005.72,632.80) scale(1.0301,1)" font-size="28.7" fill="#2b2b2b" stroke="#2b2b2b" stroke-width="0.25">24</text>
<text transform="translate(1100.41,632.80) scale(0.9968,1)" font-size="28.7" fill="#2b2b2b" stroke="#2b2b2b" stroke-width="0.25">ago</text>
<text transform="translate(1157.11,632.80) scale(1.0402,1)" font-size="28.7" fill="#2b2b2b" stroke="#2b2b2b" stroke-width="0.25">24</text>
</g>
<rect x="1160.95" y="248.7" width="109.15" height="41.6" fill="#000"/>
<g font-family="'Liberation Sans', sans-serif" filter="url(#tf)"><text transform="translate(1170.07,279.20) scale(1.0457,1)" font-size="29.3" fill="#fff" stroke="#fff" stroke-width="0.6">322,82</text></g>
<g transform="translate(84,72) scale(0.14977)">
<path fill="#12260a" d="M48.5,398.5 L165,329 Q192,341 219,360.5 L240,374 L640,374 L660,360.5 Q687,341 714,329 L830.5,398.5 Q779,475 702.5,492 L737,638 L145,638 L182.5,492 Q100,475 48.5,398.5 Z"/>
<circle cx="439.5" cy="413.8" r="211.5" fill="#fff" stroke="#6ee7a8" stroke-width="25"/>
<path fill="#12260a" d="M220,359 A219.5,202.5 0 0 1 659,359 Q440,420 220,359 Z"/>
<ellipse cx="357" cy="427" rx="49" ry="33" transform="rotate(12 357 427)" fill="#12260a"/>
<ellipse cx="522" cy="427" rx="49" ry="33" transform="rotate(-12 522 427)" fill="#12260a"/>
<path fill="#6ee7a8" d="M217,359 Q439.5,401 662,359 L636.4,380.7 Q439.5,494 243.6,380.7 Z"/>
<path fill="#12260a" d="M341,561.5 Q362,492 438,484 Q520,492 542.5,561.5 Q505,585 472,562 Q458,545 441,540 Q424,545 410,562 Q377,585 341,561.5 Z"/>
<circle cx="441" cy="602.5" r="32.5" fill="#6ee7a8"/>
<path fill="#6ee7a8" d="M235,57 L345,297 Q375,362 439.5,362 Q504,362 534,297 L646,57 L568,102 L494,266 Q471,320 439.5,320 Q408,320 384,266 L311,102 Z"/>
<circle cx="439.6" cy="265.7" r="53.5" fill="#fff"/>
</g>
</svg>
</body></html>
